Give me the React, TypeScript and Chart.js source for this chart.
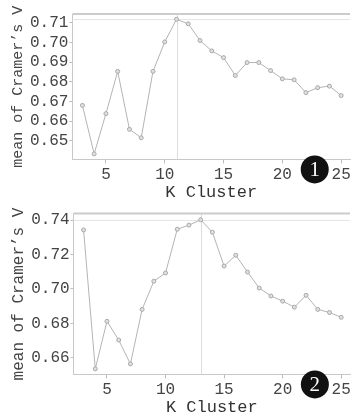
import React, { useEffect, useRef } from "react";
import { Chart, registerables } from "chart.js";

Chart.register(...registerables);

const kValues = [3, 4, 5, 6, 7, 8, 9, 10, 11, 12, 13, 14, 15, 16, 17, 18, 19, 20, 21, 22, 23, 24, 25];
const meanV1 = [0.668, 0.6433, 0.6638, 0.6853, 0.6558, 0.6515, 0.6853, 0.7003, 0.7118, 0.7095, 0.701, 0.6957, 0.6923, 0.6832, 0.6898, 0.6898, 0.6857, 0.6815, 0.681, 0.6745, 0.677, 0.6778, 0.673];
const meanV2 = [0.7343, 0.6535, 0.6812, 0.6703, 0.6564, 0.6881, 0.7045, 0.7093, 0.7347, 0.7371, 0.7402, 0.733, 0.7133, 0.7196, 0.7098, 0.7005, 0.6959, 0.6929, 0.6894, 0.6963, 0.6881, 0.6863, 0.6835];
const xTicks = [5, 10, 15, 20, 25];
const yTicks1 = [0.65, 0.66, 0.67, 0.68, 0.69, 0.7, 0.71];
const yTicks2 = [0.66, 0.68, 0.7, 0.72, 0.74];
const xRange = [2.15, 25.75];
const yRange1 = [0.6405, 0.7145];
const yRange2 = [0.6503, 0.7438];
const badgeLabels = ["1", "2"];
const badgeK = 22.75;
const xTitle = "K Cluster";
const yTitle = "mean of Cramer\u2019s V";

const FONT = "'Liberation Mono', 'DejaVu Sans Mono', monospace";

const overlayPlugin = {
  id: "overlay",
  beforeDatasetsDraw(chart: any, _args: any, opts: any) {
    const { ctx, chartArea: a, scales } = chart;
    const x = scales.x;
    const y = scales.y;
    const vals: number[] = opts.values;
    let best = 0;
    vals.forEach((v, i) => { if (v > vals[best]) best = i; });
    ctx.save();
    ctx.lineWidth = 1;
    ctx.strokeStyle = "#e6e6e6";
    const hy = Math.round(y.getPixelForValue(vals[best])) + 0.5;
    ctx.beginPath(); ctx.moveTo(a.left, hy); ctx.lineTo(a.right, hy); ctx.stroke();
    ctx.strokeStyle = "#dcdcdc";
    const vx = Math.round(x.getPixelForValue(kValues[best])) + 0.5;
    ctx.beginPath(); ctx.moveTo(vx, a.top); ctx.lineTo(vx, a.bottom); ctx.stroke();
    ctx.strokeStyle = "#cccccc";
    ctx.lineWidth = 2;
    ctx.beginPath(); ctx.moveTo(a.left, a.top); ctx.lineTo(a.right, a.top); ctx.stroke();
    ctx.restore();
  },
  afterDraw(chart: any, _args: any, opts: any) {
    const { ctx, chartArea: a, scales } = chart;
    const cx = scales.x.getPixelForValue(badgeK);
    const cy = a.bottom + 10;
    ctx.save();
    ctx.fillStyle = "#111";
    ctx.beginPath(); ctx.arc(cx, cy, 14, 0, Math.PI * 2); ctx.fill();
    ctx.fillStyle = "#fff";
    ctx.font = "21px 'Liberation Serif', serif";
    ctx.textAlign = "center";
    ctx.textBaseline = "middle";
    ctx.fillText(opts.label, cx, cy + 1);
    ctx.restore();
  },
};

function Panel(props: { values: number[]; yTicks: number[]; yRange: number[]; label: string; height: number; top: number; titleSize: number }) {
  const ref = useRef<HTMLCanvasElement>(null);
  useEffect(() => {
    if (!ref.current) return;
    const chart = new Chart(ref.current, {
      type: "line",
      data: {
        datasets: [
          {
            data: kValues.map((k, i) => ({ x: k, y: props.values[i] })),
            borderColor: "#b4b4b4",
            borderWidth: 1,
            pointRadius: 2,
            pointBorderWidth: 1,
            pointBorderColor: "#a8a8a8",
            pointBackgroundColor: "#e0e0e0",
            tension: 0,
          },
        ],
      },
      options: {
        responsive: false,
        animation: false,
        devicePixelRatio: 1,
        layout: { padding: { top: props.top, right: 0, left: 9, bottom: 0 } },
        plugins: {
          legend: { display: false },
          tooltip: { enabled: false },
          overlay: { values: props.values, label: props.label },
        } as any,
        scales: {
          x: {
            type: "linear",
            min: xRange[0],
            max: xRange[1],
            afterBuildTicks: (s: any) => { s.ticks = xTicks.map((v) => ({ value: v })); },
            afterFit: (s: any) => { s.paddingLeft = 0; s.paddingRight = 0; },
            grid: { drawOnChartArea: false, drawTicks: true, tickLength: 4, color: "#bbb" },
            border: { display: true, color: "#c8c8c8" },
            ticks: { color: "#444", font: { family: FONT, size: 16 }, padding: 2, maxRotation: 0, callback: (v: any) => String(v) },
            title: { display: true, text: xTitle, color: "#333", font: { family: FONT, size: 17 }, padding: { top: -4, bottom: 0 } },
          },
          y: {
            type: "linear",
            min: props.yRange[0],
            max: props.yRange[1],
            afterBuildTicks: (s: any) => { s.ticks = props.yTicks.map((v) => ({ value: v })); },
            grid: { drawOnChartArea: false, drawTicks: true, tickLength: 3, color: "#bbb" },
            border: { display: true, color: "#c8c8c8" },
            ticks: { color: "#444", font: { family: FONT, size: 16 }, padding: 1, callback: (v: any) => Number(v).toFixed(2) },
            title: { display: true, text: yTitle, color: "#444", font: { family: FONT, size: props.titleSize }, padding: { top: 0, bottom: 2 } },
          },
        },
      },
      plugins: [overlayPlugin],
    } as any);
    return () => chart.destroy();
  }, []);
  return <canvas ref={ref} width={355} height={props.height} style={{ display: "block" }} />;
}

export default function App() {
  return (
    <div style={{ position: "absolute", left: 0, top: 0, width: 355, height: 418, background: "#fff" }}>
      <Panel values={meanV1} yTicks={yTicks1} yRange={yRange1} label={badgeLabels[0]} height={203} top={14} titleSize={15} />
      <Panel values={meanV2} yTicks={yTicks2} yRange={yRange2} label={badgeLabels[1]} height={215} top={10} titleSize={16} />
    </div>
  );
}
